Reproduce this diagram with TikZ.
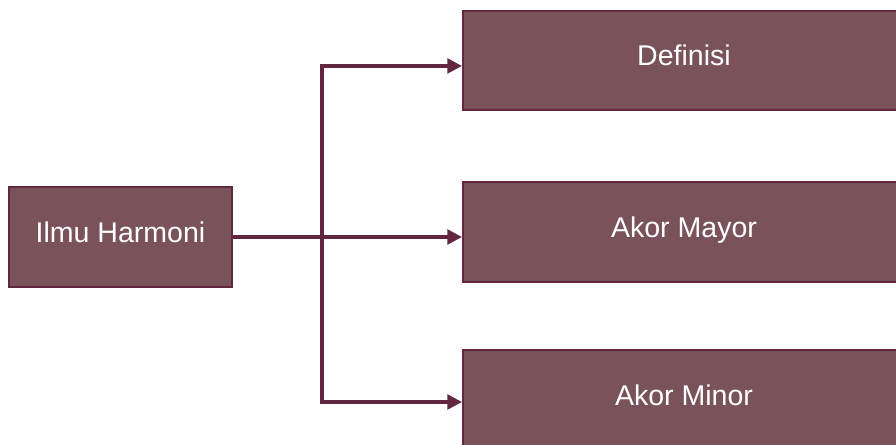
\documentclass[tikz,border=0pt]{standalone}
\usepackage{fontspec}
\setmainfont{Liberation Sans}
\usetikzlibrary{arrows.meta}
\definecolor{boxfill}{RGB}{121,83,89}
\definecolor{boxline}{RGB}{99,38,64}
\begin{document}
\begin{tikzpicture}[x=0.75pt,y=-0.75pt,
  box/.style={draw=boxline, line width=1.5pt, fill=boxfill, text=white,
    font=\fontsize{21.4}{25}\selectfont, inner sep=0pt, anchor=center,
    text height=16pt, text depth=8.4pt},
  conn/.style={draw=boxline, line width=2.5pt},
  arr/.style={conn, -{Triangle[length=11pt,width=11pt]}}]
\useasboundingbox (0,0) rectangle (896,445);
\clip (0,0) rectangle (896,445);
\node[box, minimum width=167.25pt, minimum height=75pt] (root) at (120.5,237) {Ilmu Harmoni};
\node[box, minimum width=331.5pt, minimum height=74.25pt] (def) at (684,60.5) {Definisi};
\node[box, minimum width=331.5pt, minimum height=75pt] (mayor) at (684,232) {Akor Mayor};
\node[box, minimum width=331.5pt, minimum height=75pt] (minor) at (684,400) {Akor Minor};
\coordinate (j) at (322,237);
\draw[arr] (root.east) -- (root.east -| mayor.west);
\draw[arr] (j) |- ([yshift=-4.1pt]def.west);
\draw[arr] (j) |- ([yshift=-1.5pt]minor.west);
\end{tikzpicture}
\end{document}
